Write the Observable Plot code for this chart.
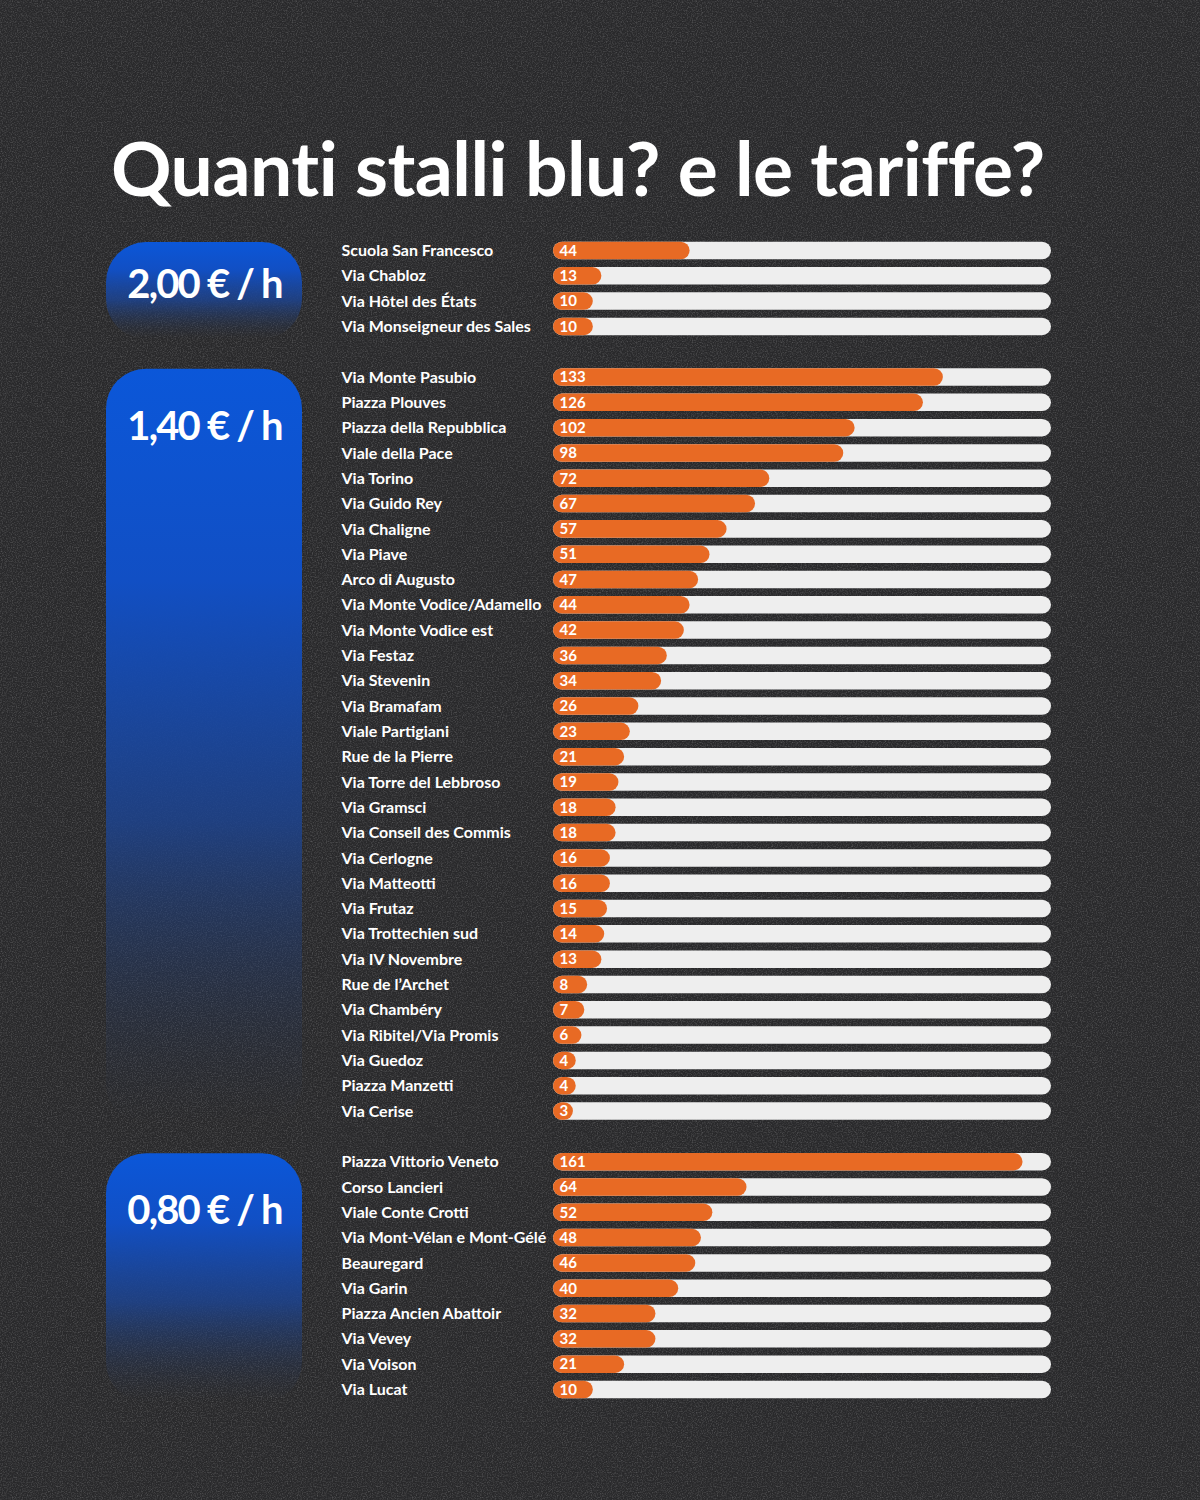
<!DOCTYPE html>
<html>
<head>
<meta charset="utf-8">
<script src="https://cdn.jsdelivr.net/npm/d3@7"></script>
<script src="https://cdn.jsdelivr.net/npm/@observablehq/plot@0.6"></script>
<style>
  html, body { margin: 0; padding: 0; }
  body {
    width: 1200px; height: 1500px; overflow: hidden;
    background-color: #29292b;
    background-image: url("data:image/svg+xml;utf8,<svg xmlns='http://www.w3.org/2000/svg' width='400' height='400'><filter id='n'><feTurbulence type='fractalNoise' baseFrequency='0.8' numOctaves='3' stitchTiles='stitch'/><feColorMatrix values='0 0 0 0 1  0 0 0 0 1  0 0 0 0 1  0.4 0 0 0 -0.17'/></filter><rect width='100%' height='100%' filter='url(%23n)'/></svg>");
    font-family: Lato, "Noto Sans", sans-serif;
  }
  #title {
    margin: 0; height: 230px; box-sizing: border-box;
    padding: 130px 0 0 111px;
    font-family: Lato, sans-serif; font-weight: 700; font-size: 75px; line-height: 1;
    color: #ffffff; letter-spacing: -0.5px; white-space: nowrap;
  }
  #chart svg { display: block; }
</style>
</head>
<body>
<h1 id="title">Quanti stalli blu? e le tariffe?</h1>
<div id="chart"></div>
<script>
// ---- Data ----
const tariffs = ["2,00 € / h", "1,40 € / h", "0,80 € / h"];

const names200 = ["Scuola San Francesco", "Via Chabloz", "Via Hôtel des États", "Via Monseigneur des Sales"];
const values200 = [44, 13, 10, 10];

const names140 = ["Via Monte Pasubio", "Piazza Plouves", "Piazza della Repubblica", "Viale della Pace",
  "Via Torino", "Via Guido Rey", "Via Chaligne", "Via Piave", "Arco di Augusto",
  "Via Monte Vodice/Adamello", "Via Monte Vodice est", "Via Festaz", "Via Stevenin",
  "Via Bramafam", "Viale Partigiani", "Rue de la Pierre", "Via Torre del Lebbroso",
  "Via Gramsci", "Via Conseil des Commis", "Via Cerlogne", "Via Matteotti", "Via Frutaz",
  "Via Trottechien sud", "Via IV Novembre", "Rue de l’Archet", "Via Chambéry",
  "Via Ribitel/Via Promis", "Via Guedoz", "Piazza Manzetti", "Via Cerise"];
const values140 = [133, 126, 102, 98, 72, 67, 57, 51, 47, 44, 42, 36, 34, 26, 23, 21, 19, 18, 18, 16, 16, 15, 14, 13, 8, 7, 6, 4, 4, 3];

const names080 = ["Piazza Vittorio Veneto", "Corso Lancieri", "Viale Conte Crotti", "Via Mont-Vélan e Mont-Gélé",
  "Beauregard", "Via Garin", "Piazza Ancien Abattoir", "Via Vevey", "Via Voison", "Via Lucat"];
const values080 = [161, 64, 52, 48, 46, 40, 32, 32, 21, 10];

// ---- Build tables ----
const groups = [
  {label: tariffs[0], names: names200, values: values200},
  {label: tariffs[1], names: names140, values: values140},
  {label: tariffs[2], names: names080, values: values080}
];
const rows = [];
const boxes = [];
let r = 0;
groups.forEach(g => {
  g.names.forEach((n, i) => rows.push({name: n, value: g.values[i], row: r + i}));
  boxes.push({label: g.label, start: r, end: r + g.names.length, size: g.names.length});
  r += g.names.length + 1;
});
const nRows = r - 1;

const xMin = -4, xMax = 171;
const orange = "#e86a24";
const track = "#eeeeee";

const plot = Plot.plot({
  width: 1200,
  height: 1270,
  margin: 0,
  style: {background: "transparent", fontFamily: "Lato, 'Noto Sans', sans-serif", color: "white"},
  x: {domain: [xMin, xMax], range: [553, 1051], axis: null},
  y: {domain: [0, nRows], range: [7.8, 1172.1], axis: null},
  marks: [
    Plot.rect(boxes, {
      y1: d => d.start + 0.17, y2: d => d.end,
      fill: "url(#fade)", insetLeft: 106, insetRight: 898, rx: 40
    }),
    Plot.text(boxes, {
      y: d => d.start + (d.size > 4 ? 2.45 : 1.85),
      text: "label", frameAnchor: "left", dx: 204, textAnchor: "middle",
      fill: "white", fontSize: 40, fontWeight: 700
    }),
    Plot.rectX(rows, {
      x1: () => xMin, x2: () => xMax, y1: "row", y2: d => d.row + 1,
      fill: track, insetTop: 3.9, insetBottom: 3.9, rx: 9
    }),
    Plot.rectX(rows, {
      x1: () => xMin, x2: "value", y1: "row", y2: d => d.row + 1,
      fill: orange, insetTop: 3.9, insetBottom: 3.9, rx: 9
    }),
    Plot.text(rows, {
      y: d => d.row + 0.5, text: d => String(d.value),
      frameAnchor: "left", dx: 559, textAnchor: "start",
      fill: "white", fontSize: 15, fontWeight: 700
    }),
    Plot.text(rows, {
      y: d => d.row + 0.5, text: "name",
      frameAnchor: "left", dx: 341, textAnchor: "start",
      fill: "white", fontSize: 16, fontWeight: 700
    })
  ]
});

const ns = "http://www.w3.org/2000/svg";
const defs = document.createElementNS(ns, "defs");
defs.innerHTML = `<linearGradient id="fade" x1="0" y1="0" x2="0" y2="1">
  <stop offset="0" stop-color="#0b57d9"/>
  <stop offset="0.28" stop-color="#114fc4"/>
  <stop offset="0.6" stop-color="#1d438e" stop-opacity="0.85"/>
  <stop offset="1" stop-color="#2b3346" stop-opacity="0"/>
</linearGradient>`;
plot.insertBefore(defs, plot.firstChild);
// tighter tracking for the tariff labels
const priceText = plot.querySelectorAll('g[aria-label="text"]')[0];
if (priceText) priceText.style.letterSpacing = "-1.8px";
document.getElementById("chart").appendChild(plot);
</script>
</body>
</html>
